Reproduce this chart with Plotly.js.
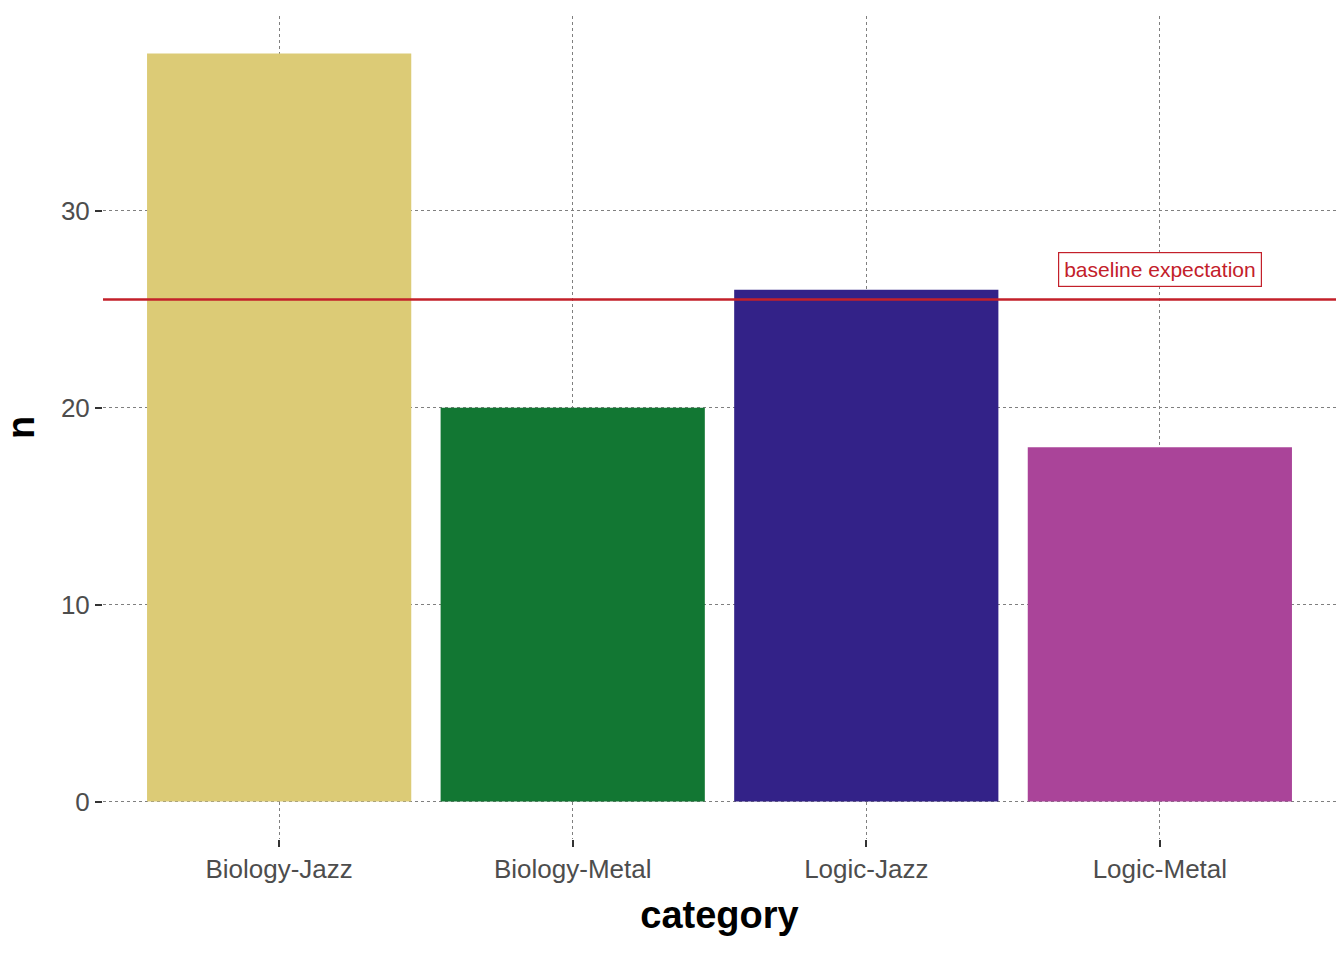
<!DOCTYPE html>
<html>
<head>
<meta charset="utf-8">
<script src="https://cdn.plot.ly/plotly-3.0.1.min.js"></script>
<style>body{margin:0;background:#fff}#chart{width:1344px;height:960px}</style>
</head>
<body>
<div id="chart"></div>
<script>
const categories = ['Biology-Jazz', 'Biology-Metal', 'Logic-Jazz', 'Logic-Metal'];
const counts = [38, 20, 26, 18];
const barColors = ['#DCCB76', '#127733', '#332288', '#AA4499'];
const baseline = 25.5;
const labelY = 27;

const trace = {
  type: 'bar',
  x: categories,
  y: counts,
  width: 0.9,
  marker: { color: barColors },
  hoverinfo: 'x+y',
};

const axisBase = {
  showline: false,
  zeroline: false,
  gridcolor: '#7f7f7f',
  griddash: 'dot',
  gridwidth: 1,
  ticks: 'outside',
  ticklen: 7,
  tickwidth: 1.5,
  tickcolor: '#333333',
  tickfont: { family: 'Liberation Sans, Arial, sans-serif', size: 26, color: '#4d4d4d' },
};

const layout = {
  paper_bgcolor: '#ffffff',
  plot_bgcolor: '#ffffff',
  width: 1344,
  height: 960,
  margin: { t: 16, r: 8, b: 121, l: 103 },
  showlegend: false,
  bargap: 0.1,
  xaxis: {
    ...axisBase,
    range: [-0.6, 3.6],
    title: { text: '<b>category</b>', standoff: 18,
      font: { family: 'Liberation Sans, Arial, sans-serif', size: 38, color: '#000' } },
  },
  yaxis: {
    ...axisBase,
    range: [-1.9, 39.9],
    tickvals: [0, 10, 20, 30],
    title: { text: '<b>n</b>', standoff: 14,
      font: { family: 'Liberation Sans, Arial, sans-serif', size: 38, color: '#000' } },
  },
  shapes: [{
    type: 'line', xref: 'paper', x0: 0, x1: 1, yref: 'y', y0: baseline, y1: baseline,
    line: { color: '#C3202A', width: 2.5 },
  }],
  annotations: [{
    x: 'Logic-Metal', y: labelY, xref: 'x', yref: 'y',
    text: 'baseline expectation', showarrow: false,
    font: { family: 'Liberation Sans, Arial, sans-serif', size: 21, color: '#C3202A' },
    bgcolor: '#ffffff', bordercolor: '#C3202A', borderwidth: 1.2, borderpad: 5,
  }],
};

Plotly.newPlot('chart', [trace], layout, { displayModeBar: false });
</script>
</body>
</html>
